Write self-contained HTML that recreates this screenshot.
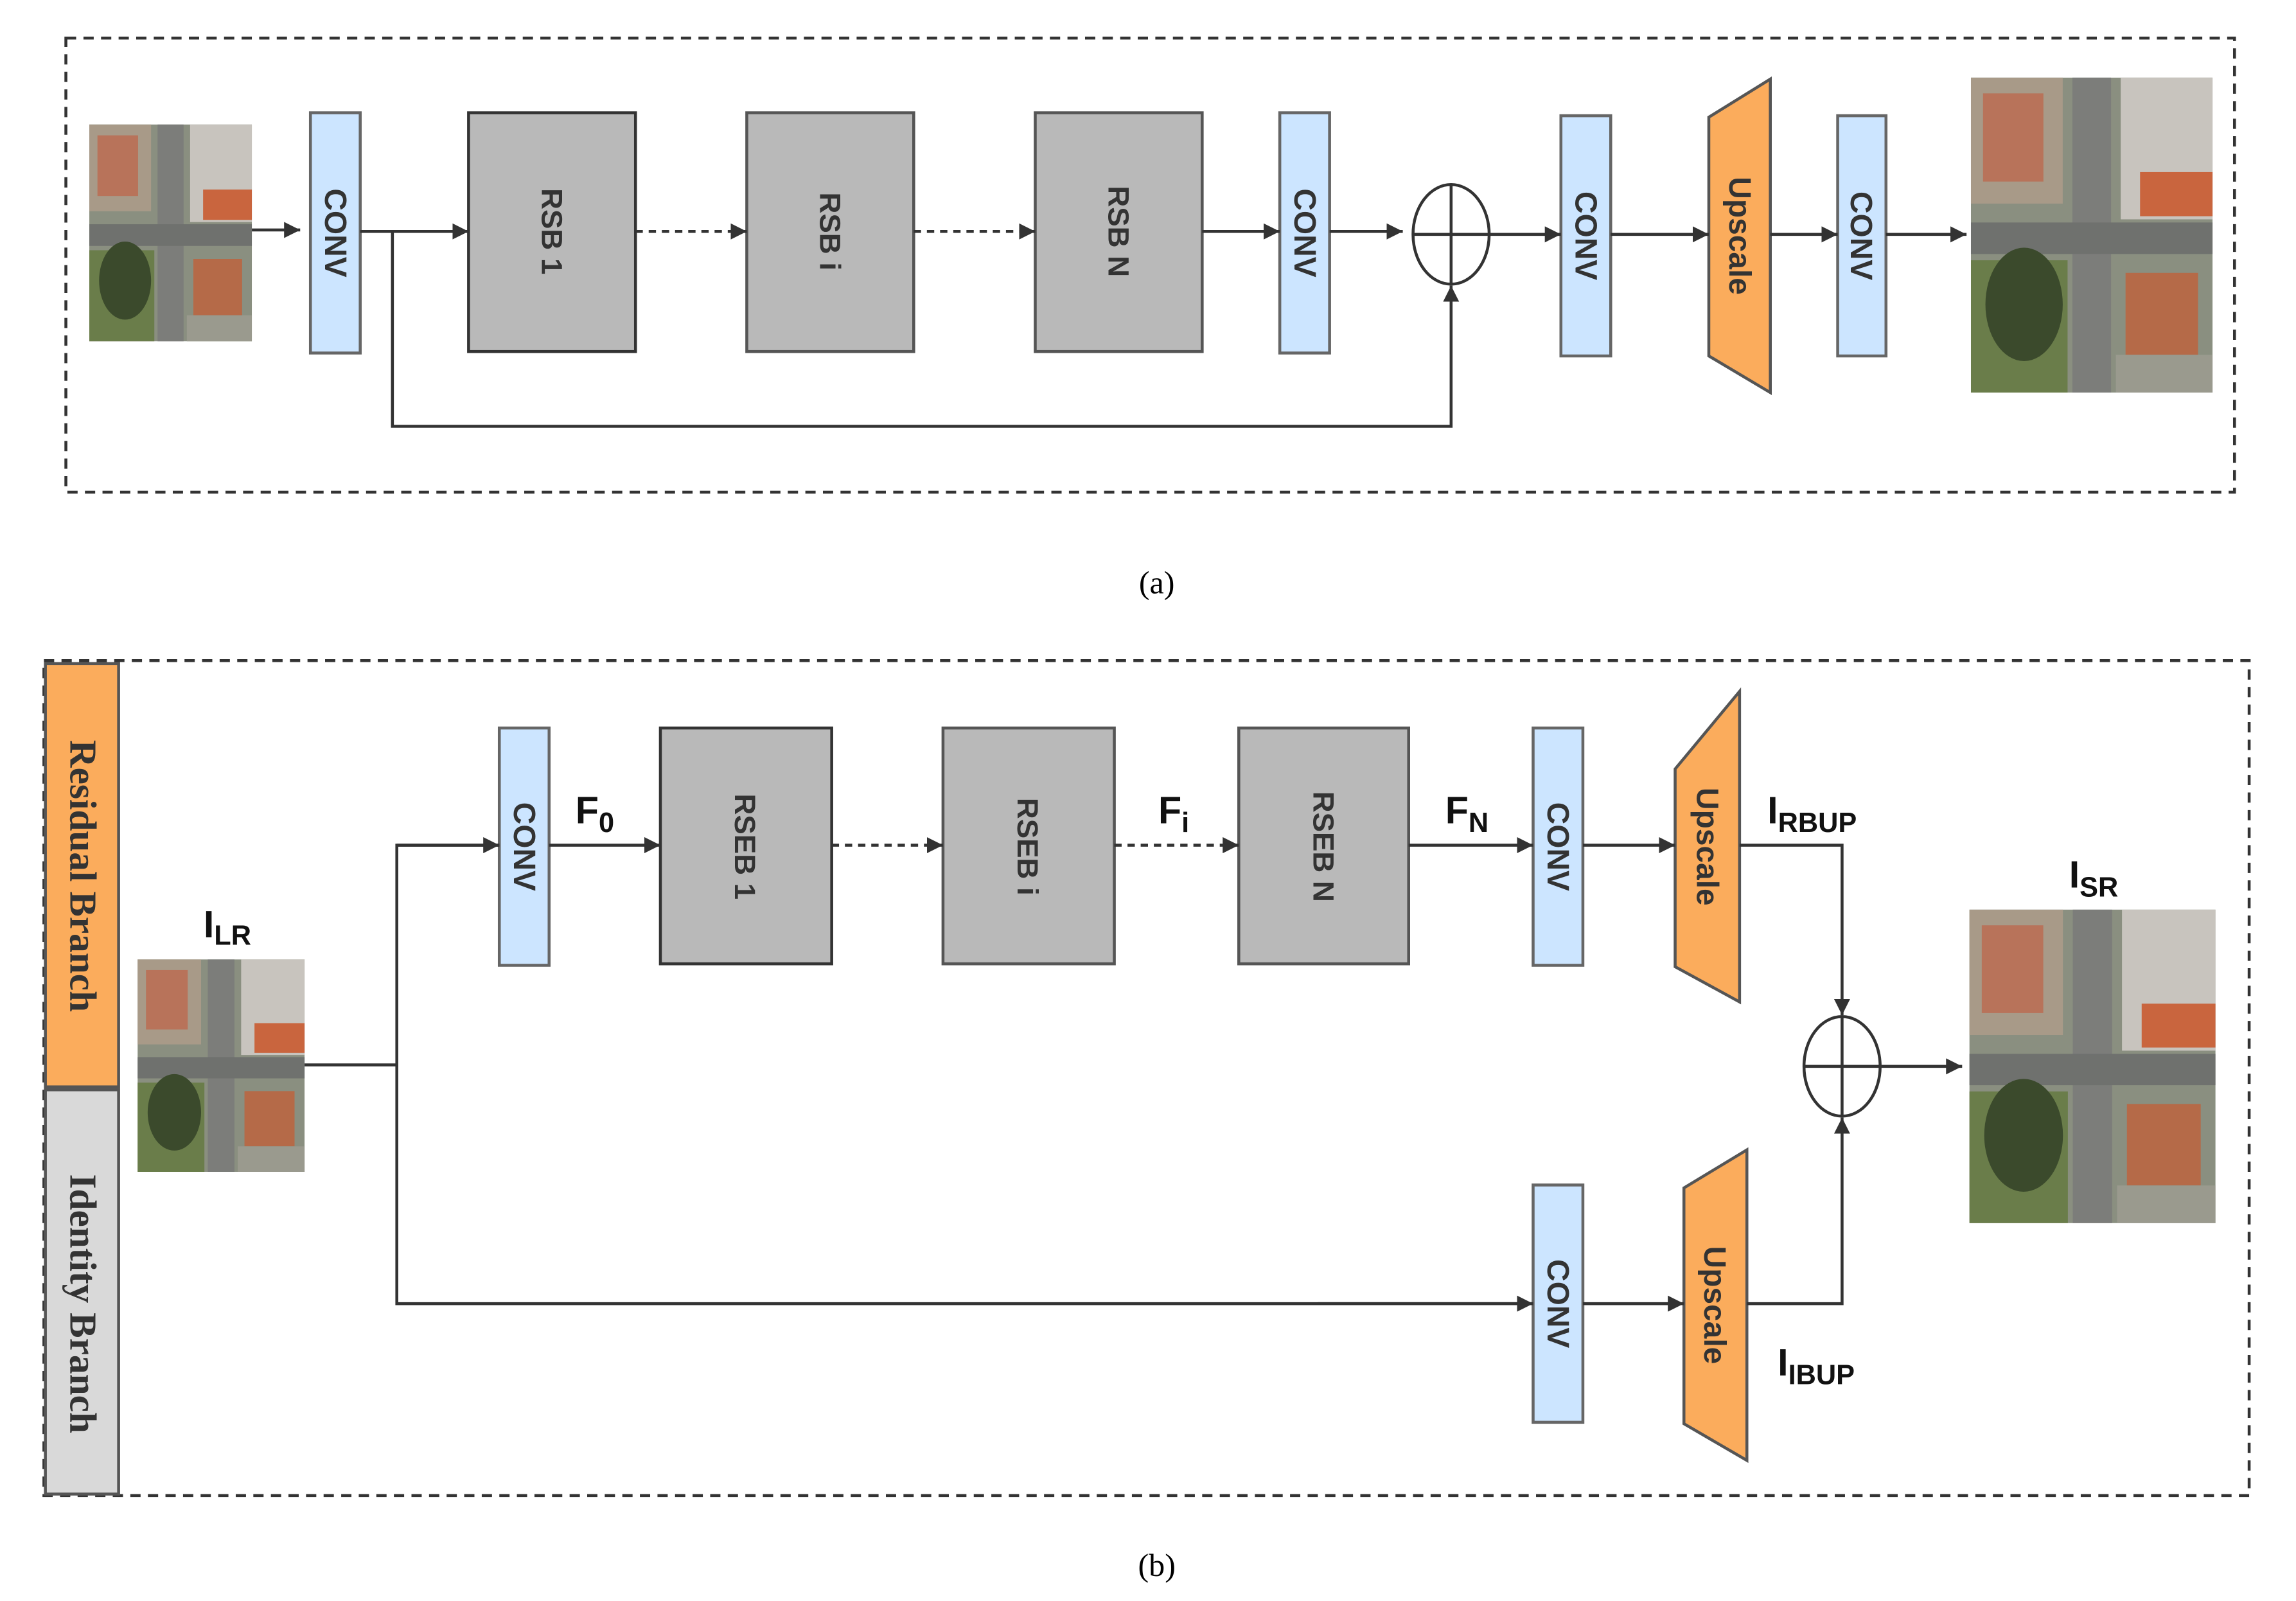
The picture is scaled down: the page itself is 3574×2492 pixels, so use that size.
<!DOCTYPE html>
<html><head><meta charset="utf-8"><style>
html,body{margin:0;padding:0;background:#fff;}
svg{display:block;}
</style></head><body>
<svg width="3574" height="2492" viewBox="0 0 1568 1093" preserveAspectRatio="none" xmlns="http://www.w3.org/2000/svg" font-family="Liberation Sans, sans-serif">
<defs>
<marker id="a" viewBox="0 0 10 10" refX="10" refY="5" markerWidth="11" markerHeight="11" orient="auto" markerUnits="userSpaceOnUse"><path d="M0,0 L10,5 L0,10 z" fill="#333"/></marker>
<g id="aer">
<rect x="0" y="0" width="100" height="100" fill="#8a8f80"/>
<rect x="0" y="0" width="38" height="40" fill="#a89a88"/>
<rect x="5" y="5" width="25" height="28" fill="#b8735a"/>
<rect x="62" y="0" width="38" height="45" fill="#c8c4be"/>
<rect x="70" y="30" width="30" height="14" fill="#c9653e"/>
<rect x="42" y="0" width="16" height="100" fill="#7c7d7a"/>
<rect x="0" y="46" width="100" height="10" fill="#6f716e"/>
<rect x="0" y="58" width="40" height="42" fill="#6a7d4a"/>
<ellipse cx="22" cy="72" rx="16" ry="18" fill="#3b4a2c"/>
<rect x="64" y="62" width="30" height="26" fill="#b56a48"/>
<rect x="60" y="88" width="40" height="12" fill="#9a9a8e"/>
</g>
</defs>
<g fill="none" stroke="#333" stroke-width="2">
<rect x="45" y="26" width="1481" height="310" stroke-dasharray="7,5"/>
<rect x="30" y="451" width="1506" height="570" stroke-dasharray="7,5"/>
</g>
<!-- (a) -->
<use href="#aer" transform="translate(61,85) scale(1.11,1.48)"/>
<use href="#aer" transform="translate(1346,53) scale(1.65,2.15)"/>
<g stroke="#444" stroke-width="2">
<rect x="212" y="77" width="34" height="164" fill="#cce5ff" stroke="#666"/>
<rect x="874" y="77" width="34" height="164" fill="#cce5ff" stroke="#666"/>
<rect x="1066" y="79" width="34" height="164" fill="#cce5ff" stroke="#666"/>
<rect x="1255" y="79" width="33" height="164" fill="#cce5ff" stroke="#666"/>
<rect x="320" y="77" width="114" height="163" fill="#b9b9b9" stroke="#333"/>
<rect x="510" y="77" width="114" height="163" fill="#b9b9b9" stroke="#555"/>
<rect x="707" y="77" width="114" height="163" fill="#b9b9b9" stroke="#555"/>
<polygon points="1167,80 1209,54 1209,268 1167,243" fill="#fbac5c" stroke="#555"/>
<ellipse cx="991" cy="160" rx="26" ry="34" fill="#fff" stroke="#333"/>
<line x1="991" y1="126" x2="991" y2="194" stroke="#333"/>
<line x1="965" y1="160" x2="1017" y2="160" stroke="#333"/>
</g>
<g stroke="#333" stroke-width="2" fill="none">
<line x1="172" y1="157" x2="205" y2="157" marker-end="url(#a)"/>
<line x1="246" y1="158" x2="320" y2="158" marker-end="url(#a)"/>
<line x1="434" y1="158" x2="510" y2="158" stroke-dasharray="5,4" marker-end="url(#a)"/>
<line x1="624" y1="158" x2="707" y2="158" stroke-dasharray="5,4" marker-end="url(#a)"/>
<line x1="821" y1="158" x2="874" y2="158" marker-end="url(#a)"/>
<line x1="908" y1="158" x2="958" y2="158" marker-end="url(#a)"/>
<line x1="1017" y1="160" x2="1066" y2="160" marker-end="url(#a)"/>
<line x1="1100" y1="160" x2="1167" y2="160" marker-end="url(#a)"/>
<line x1="1209" y1="160" x2="1255" y2="160" marker-end="url(#a)"/>
<line x1="1288" y1="160" x2="1343" y2="160" marker-end="url(#a)"/>
<polyline points="268,158 268,291 991,291 991,195" marker-end="url(#a)"/>
</g>
<g font-weight="bold" fill="#333" font-size="21" text-anchor="middle">
<text transform="translate(229,159) rotate(90)" dy="7">CONV</text>
<text transform="translate(891,159) rotate(90)" dy="7">CONV</text>
<text transform="translate(1083,161) rotate(90)" dy="7">CONV</text>
<text transform="translate(1271,161) rotate(90)" dy="7">CONV</text>
<text transform="translate(377,158) rotate(90)" dy="7" font-size="20">RSB 1</text>
<text transform="translate(567,158) rotate(90)" dy="7" font-size="20">RSB i</text>
<text transform="translate(764,158) rotate(90)" dy="7" font-size="20">RSB N</text>
<text transform="translate(1188,161) rotate(90)" dy="7">Upscale</text>
</g>
<text x="790" y="405" font-family="Liberation Serif, serif" font-size="22" text-anchor="middle" fill="#000">(a)</text>
<!-- (b) -->
<rect x="31" y="453" width="50" height="289" fill="#fbac5c" stroke="#555" stroke-width="2"/>
<rect x="31" y="744" width="50" height="276" fill="#d9d9d9" stroke="#555" stroke-width="2"/>
<g font-family="Liberation Serif, serif" font-weight="bold" fill="#333" font-size="26" text-anchor="middle">
<text transform="translate(56,598) rotate(90)" dy="8">Residual Branch</text>
<text transform="translate(56,890) rotate(90)" dy="8">Identity Branch</text>
</g>
<use href="#aer" transform="translate(94,655) scale(1.14,1.45)"/>
<use href="#aer" transform="translate(1345,621) scale(1.68,2.14)"/>
<g stroke-width="2">
<rect x="341" y="497" width="34" height="162" fill="#cce5ff" stroke="#666"/>
<rect x="1047" y="497" width="34" height="162" fill="#cce5ff" stroke="#666"/>
<rect x="1047" y="809" width="34" height="162" fill="#cce5ff" stroke="#666"/>
<rect x="451" y="497" width="117" height="161" fill="#b9b9b9" stroke="#333"/>
<rect x="644" y="497" width="117" height="161" fill="#b9b9b9" stroke="#555"/>
<rect x="846" y="497" width="116" height="161" fill="#b9b9b9" stroke="#555"/>
<polygon points="1144,525 1188,472 1188,684 1144,660" fill="#fbac5c" stroke="#555"/>
<polygon points="1150,811 1193,785 1193,997 1150,972" fill="#fbac5c" stroke="#555"/>
<ellipse cx="1258" cy="728" rx="26" ry="34" fill="#fff" stroke="#333"/>
<line x1="1258" y1="694" x2="1258" y2="762" stroke="#333"/>
<line x1="1232" y1="728" x2="1284" y2="728" stroke="#333"/>
</g>
<g stroke="#333" stroke-width="2" fill="none">
<polyline points="208,727 271,727"/>
<polyline points="341,577 271,577 271,890 1046,890" />
<line x1="271" y1="577" x2="341" y2="577" marker-end="url(#a)"/>
<line x1="900" y1="890" x2="1047" y2="890" marker-end="url(#a)"/>
<line x1="375" y1="577" x2="451" y2="577" marker-end="url(#a)"/>
<line x1="568" y1="577" x2="644" y2="577" stroke-dasharray="5,4" marker-end="url(#a)"/>
<line x1="761" y1="577" x2="846" y2="577" stroke-dasharray="5,4" marker-end="url(#a)"/>
<line x1="962" y1="577" x2="1047" y2="577" marker-end="url(#a)"/>
<line x1="1081" y1="577" x2="1144" y2="577" marker-end="url(#a)"/>
<line x1="1081" y1="890" x2="1150" y2="890" marker-end="url(#a)"/>
<polyline points="1188,577 1258,577 1258,693" marker-end="url(#a)"/>
<polyline points="1193,890 1258,890 1258,763" marker-end="url(#a)"/>
<line x1="1284" y1="728" x2="1340" y2="728" marker-end="url(#a)"/>
</g>
<g font-weight="bold" fill="#333" font-size="21" text-anchor="middle">
<text transform="translate(358,578) rotate(90)" dy="7">CONV</text>
<text transform="translate(1064,578) rotate(90)" dy="7">CONV</text>
<text transform="translate(1064,890) rotate(90)" dy="7">CONV</text>
<text transform="translate(509,578) rotate(90)" dy="7" font-size="20">RSEB 1</text>
<text transform="translate(702,578) rotate(90)" dy="7" font-size="20">RSEB i</text>
<text transform="translate(904,578) rotate(90)" dy="7" font-size="20">RSEB N</text>
<text transform="translate(1166,578) rotate(90)" dy="7">Upscale</text>
<text transform="translate(1171,891) rotate(90)" dy="7">Upscale</text>
</g>
<g font-weight="bold" fill="#111" font-size="26">
<text x="139" y="640">I<tspan font-size="19" dy="5">LR</tspan></text>
<text x="393" y="562">F<tspan font-size="19" dy="6">0</tspan></text>
<text x="791" y="562">F<tspan font-size="19" dy="6">i</tspan></text>
<text x="987" y="562">F<tspan font-size="19" dy="6">N</tspan></text>
<text x="1207" y="562">I<tspan font-size="19" dy="6">RBUP</tspan></text>
<text x="1413" y="606">I<tspan font-size="19" dy="6">SR</tspan></text>
<text x="1214" y="939">I<tspan font-size="19" dy="6">IBUP</tspan></text>
</g>
<text x="790" y="1076" font-family="Liberation Serif, serif" font-size="22" text-anchor="middle" fill="#000">(b)</text>
</svg>
</body></html>
